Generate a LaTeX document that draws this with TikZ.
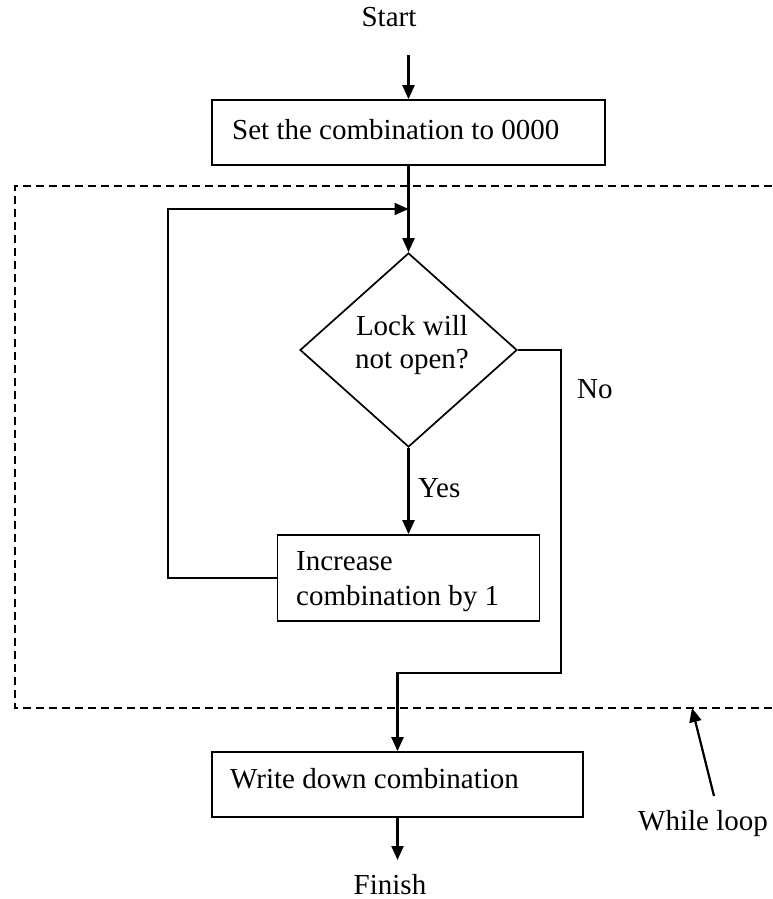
\documentclass[tikz,border=0pt]{standalone}
\usepackage{fontspec}
\setmainfont{Liberation Serif}
\usetikzlibrary{arrows.meta,shapes.geometric}
\begin{document}
\begin{tikzpicture}[x=1pt,y=-1pt,
  font=\fontsize{29}{32}\selectfont,
  box/.style={draw, line width=1.7pt, rectangle, inner sep=0pt},
  dec/.style={draw, line width=1.7pt, diamond, inner sep=0pt, minimum width=217pt, minimum height=194pt},
  txt/.style={inner sep=0pt, anchor=base west},
  flow/.style={line width=2.2pt, -{Triangle[length=14pt,width=12pt]}},
  loopbox/.style={line width=1.6pt, dash pattern=on 8pt off 5pt}
]
\useasboundingbox (0,0) rectangle (772,899);

% dashed while-loop frame
\draw[loopbox] (772,186) -- (15,186) -- (15,708) -- (772,708);

% nodes
\node[txt, anchor=base] (start) at (389,27) {Start};
\coordinate (startarr) at (408.5,55);
\node[box, minimum width=393pt, minimum height=65pt] (set) at (408.5,132.5) {};
\node[txt] (settxt) at (232,139) {Set the combination to 0000};

\node[dec] (lock) at (408.5,350) {};
\node[txt, anchor=base] (locktxt1) at (412,335) {Lock will};
\node[txt, anchor=base] (locktxt2) at (412,368) {not open?};

\node[box, minimum width=262pt, minimum height=86pt] (inc) at (408.5,578) {};
\node[txt] (inctxt1) at (296,570) {Increase};
\node[txt] (inctxt2) at (296,605) {combination by 1};

\node[box, minimum width=371pt, minimum height=65pt] (write) at (397.5,784.5) {};
\node[txt] (writetxt) at (230,788) {Write down combination};

\node[txt, anchor=base] (finish) at (390,894) {Finish};
\coordinate (finarr) at (397.5,860);

\node[txt] (yes) at (418,497) {Yes};
\node[txt] (no) at (577,398) {No};
\node[txt] (while) at (638,830) {While loop};

% connectors
\draw[flow] (startarr) -- (set.north);
\draw[flow] (set.south) -- (lock.north);
\draw[flow] (lock.south) -- (inc.north);
\coordinate (loopA) at (168,578);
\coordinate (loopB) at (168,209);
\coordinate (loopC) at (408.5,209);
\draw[flow] (inc.west) -- (loopA) -- (loopB) -- (loopC);
\coordinate (noA) at (561,350);
\coordinate (noB) at (561,673);
\coordinate (noC) at (397.5,673);
\draw[flow] (lock.east) -- (noA) -- (noB) -- (noC) -- (write.north);
\draw[flow] (write.south) -- (finarr);
\coordinate (wltail) at (714,796);
\coordinate (wltip) at (692,708);
\draw[flow] (wltail) -- (wltip);
\end{tikzpicture}
\end{document}
